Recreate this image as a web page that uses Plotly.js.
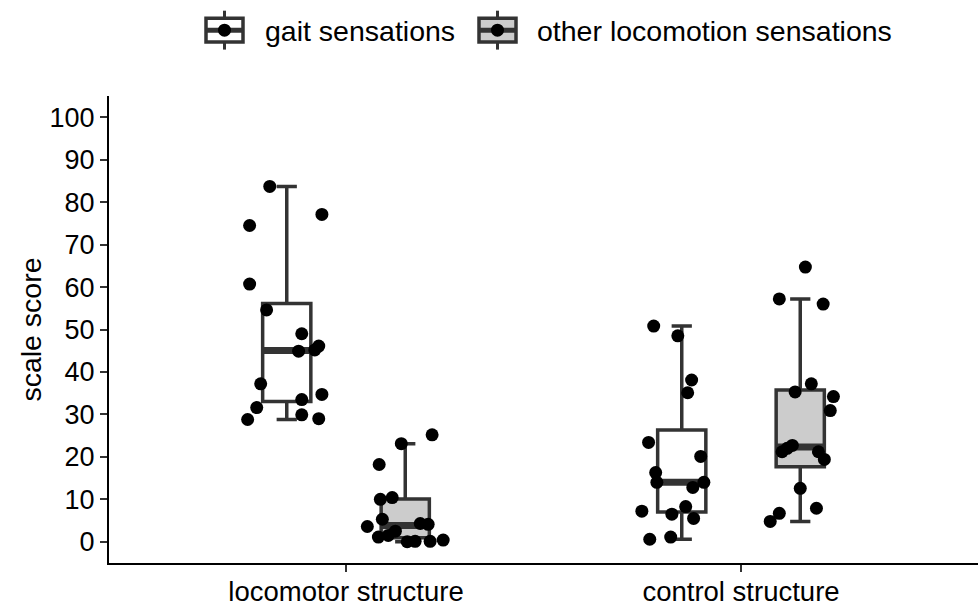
<!DOCTYPE html>
<html>
<head>
<meta charset="utf-8">
<script src="https://cdn.plot.ly/plotly-3.0.1.min.js"></script>
<style>html,body{margin:0;padding:0;background:#fff}#chart{width:980px;height:609px}</style>
</head>
<body>
<div id="chart"></div>
<script>
// ---- data ----
const categories = ['locomotor structure', 'control structure'];
const seriesNames = ['gait sensations', 'other locomotion sensations'];
const seriesFill = ['#FFFFFF', '#CCCCCC'];

const gaitLoco = [83.7, 77.1, 74.5, 60.7, 54.6, 49.0, 44.9, 45.2, 46.1, 37.2, 34.7, 33.5, 31.6, 29.9, 28.8, 29.0];
const gaitLocoJitter = [-0.043, 0.089, -0.094, -0.094, -0.051, 0.038, 0.030, 0.071, 0.081, -0.066, 0.089, 0.038, -0.076, 0.038, -0.099, 0.081];

const otherLoco = [25.2, 23.1, 18.2, 10.0, 10.4, 3.6, 5.3, 1.1, 1.5, 2.5, 4.3, 4.1, 0.0, 0.1, 0.1, 0.4];
const otherLocoJitter = [0.068, -0.010, -0.066, -0.063, -0.033, -0.096, -0.058, -0.068, -0.043, -0.025, 0.038, 0.058, 0.005, 0.025, 0.063, 0.096];

const gaitControl = [50.8, 48.5, 38.1, 35.1, 23.4, 20.1, 16.3, 14.0, 12.8, 14.0, 7.2, 6.5, 8.3, 5.5, 0.6, 1.1];
const gaitControlJitter = [-0.071, -0.010, 0.025, 0.015, -0.084, 0.048, -0.066, -0.063, 0.028, 0.056, -0.101, -0.025, 0.010, 0.030, -0.081, -0.028];

const otherControl = [64.7, 57.2, 56.0, 37.2, 35.3, 34.2, 30.9, 22.7, 22.0, 21.2, 21.2, 19.4, 12.6, 7.9, 6.7, 4.8];
const otherControlJitter = [0.013, -0.053, 0.058, 0.028, -0.013, 0.084, 0.076, -0.020, -0.033, -0.046, 0.046, 0.061, 0.0, 0.041, -0.053, -0.076];

const yTicks = [0, 10, 20, 30, 40, 50, 60, 70, 80, 90, 100];

// ---- helpers ----
function quantile(sorted, p) {
  const h = (sorted.length - 1) * p;
  const lo = Math.floor(h), hi = Math.ceil(h);
  return sorted[lo] + (h - lo) * (sorted[hi] - sorted[lo]);
}
function boxStats(vals) {
  const s = vals.slice().sort((a, b) => a - b);
  const q1 = quantile(s, 0.25), med = quantile(s, 0.5), q3 = quantile(s, 0.75);
  const iqr = q3 - q1;
  const hiF = q3 + 1.5 * iqr, loF = q1 - 1.5 * iqr;
  const up = Math.max(...s.filter(v => v <= hiF));
  const low = Math.min(...s.filter(v => v >= loF));
  return {q1, med, q3, up, low};
}

const groups = [
  {cat: 0, ser: 0, vals: gaitLoco, jit: gaitLocoJitter},
  {cat: 0, ser: 1, vals: otherLoco, jit: otherLocoJitter},
  {cat: 1, ser: 0, vals: gaitControl, jit: gaitControlJitter},
  {cat: 1, ser: 1, vals: otherControl, jit: otherControlJitter}
];

const dodge = 0.15;
const boxW = 0.122;
const lineCol = '#333333';
const traces = [];
const medianTraces = [];
const pointTraces = [];

groups.forEach(g => {
  const pos = g.cat + 1 + (g.ser === 0 ? -dodge : dodge);
  const st = boxStats(g.vals);
  traces.push({
    type: 'box', x: [pos], q1: [st.q1], median: [st.med], q3: [st.q3],
    lowerfence: [st.low], upperfence: [st.up],
    width: boxW, whiskerwidth: 0.42, boxpoints: false,
    fillcolor: seriesFill[g.ser], line: {color: lineCol, width: 3.5},
    name: seriesNames[g.ser], showlegend: false, hoverinfo: 'skip'
  });
  medianTraces.push({
    type: 'scatter', mode: 'lines',
    x: [pos - boxW / 2, pos + boxW / 2], y: [st.med, st.med],
    line: {color: lineCol, width: 7}, showlegend: false, hoverinfo: 'skip'
  });
  pointTraces.push({
    type: 'scatter', mode: 'markers',
    x: g.vals.map((v, i) => pos + g.jit[i]), y: g.vals,
    marker: {color: '#000000', size: 13},
    name: seriesNames[g.ser], showlegend: false
  });
});

// ---- layout geometry ----
const W = 980, H = 609;
const M = {l: 109, r: 2, t: 95.5, b: 45.5};
const pw = W - M.l - M.r, ph = H - M.t - M.b;
const px2x = px => (px - M.l) / pw;
const px2y = py => (H - M.b - py) / ph;

const FONT = 'Liberation Sans, Arial, Helvetica, sans-serif';

// manual legend keys (styling only)
const shapes = [];
const annotations = [];
const keys = [
  {cx: 224.5, textX: 263, ser: 0},
  {cx: 497.5, textX: 535, ser: 1}
];
keys.forEach(k => {
  const hw = 18.5;
  shapes.push({type: 'line', xref: 'paper', yref: 'paper', x0: px2x(k.cx), x1: px2x(k.cx), y0: px2y(10), y1: px2y(49), line: {color: lineCol, width: 3}});
  shapes.push({type: 'rect', xref: 'paper', yref: 'paper', x0: px2x(k.cx - hw), x1: px2x(k.cx + hw), y0: px2y(17.5), y1: px2y(41.5), fillcolor: seriesFill[k.ser], line: {color: lineCol, width: 3.5}});
  shapes.push({type: 'line', xref: 'paper', yref: 'paper', x0: px2x(k.cx - hw), x1: px2x(k.cx + hw), y0: px2y(29.5), y1: px2y(29.5), line: {color: lineCol, width: 5}});
  shapes.push({type: 'circle', xref: 'paper', yref: 'paper', x0: px2x(k.cx - 6.5), x1: px2x(k.cx + 6.5), y0: px2y(23), y1: px2y(36), fillcolor: '#000000', line: {width: 0}});
  annotations.push({xref: 'paper', yref: 'paper', x: px2x(k.textX), y: px2y(30), xanchor: 'left', yanchor: 'middle', showarrow: false, text: seriesNames[k.ser], font: {family: FONT, size: 28.5, color: '#000000'}});
});

const layout = {
  width: W, height: H,
  margin: M,
  paper_bgcolor: '#ffffff', plot_bgcolor: '#ffffff',
  showlegend: false,
  font: {family: FONT, color: '#000000'},
  xaxis: {
    range: [0.4, 2.6], tickvals: [1, 2], ticktext: categories,
    showgrid: false, zeroline: false, showline: true, linecolor: '#000000', linewidth: 2,
    ticks: 'outside', ticklen: 7, tickwidth: 2, tickcolor: '#333333',
    ticklabelstandoff: -4,
    tickfont: {family: FONT, size: 27.5, color: '#000000'}
  },
  yaxis: {
    range: [-5, 105], tickvals: yTicks, ticktext: yTicks.map(String),
    showgrid: false, zeroline: false, showline: true, linecolor: '#000000', linewidth: 2,
    ticks: 'outside', ticklen: 7, tickwidth: 2, tickcolor: '#333333',
    tickfont: {family: FONT, size: 27, color: '#000000'},
    title: {text: 'scale score', font: {family: FONT, size: 28.5, color: '#000000'}}
  },
  shapes: shapes,
  annotations: annotations
};

Plotly.newPlot('chart', traces.concat(medianTraces, pointTraces), layout, {displayModeBar: false, staticPlot: true});
</script>
</body>
</html>
